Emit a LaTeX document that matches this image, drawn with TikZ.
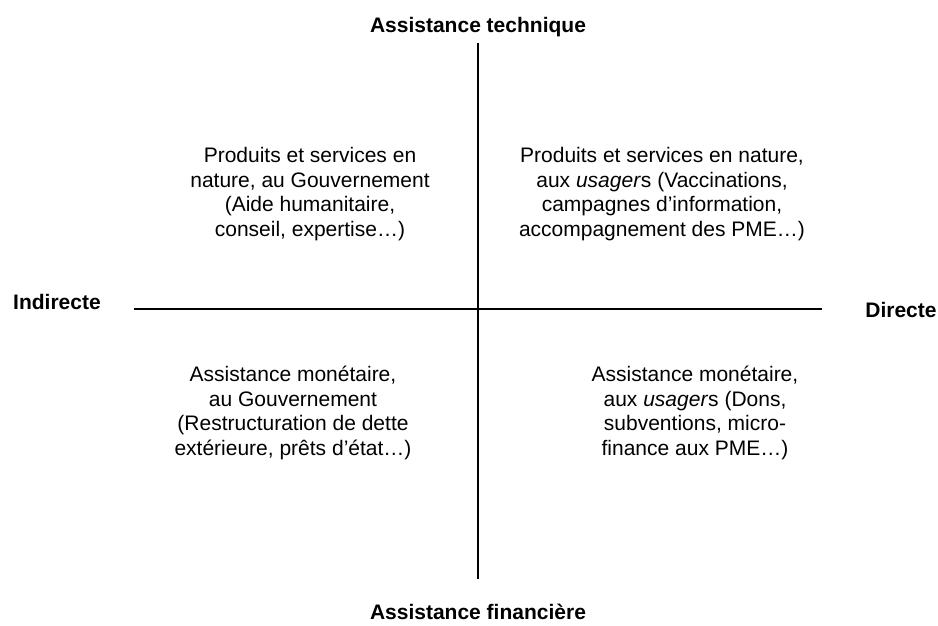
\documentclass[tikz,border=0pt]{standalone}
\usepackage{fontspec}
\setmainfont{Liberation Sans}
\begin{document}
\begin{tikzpicture}[x=1pt,y=-1pt,
  axis/.style={line width=1.6pt,black},
  lbl/.style={font=\fontsize{21}{24}\selectfont\bfseries,inner sep=0pt,anchor=base},
  quad/.style={font=\fontsize{21}{24.5}\selectfont,align=center,inner sep=0pt}]
\useasboundingbox[fill=white] (0,0) rectangle (938,626);
\coordinate (vt) at (478,43);
\coordinate (vb) at (478,579);
\coordinate (hl) at (134,309);
\coordinate (hr) at (822,309);
\draw[axis] (vt) -- (vb);
\draw[axis] (hl) -- (hr);
\node[lbl] (top) at (478,33) {Assistance technique};
\node[lbl] (bot) at (478,619) {Assistance financière};
\node[lbl] (ind) at (57,309) {Indirecte};
\node[lbl] (dir) at (901,317) {Directe};
\node[quad] (tl) at (310,194) {Produits et services en\\nature, au Gouvernement\\(Aide humanitaire,\\conseil, expertise…)};
\node[quad] (tr) at (662,194) {Produits et services en nature,\\aux \textit{usager}s (Vaccinations,\\campagnes d’information,\\accompagnement des PME…)};
\node[quad] (bl) at (293,413) {Assistance monétaire,\\au Gouvernement\\(Restructuration de dette\\extérieure, prêts d’état…)};
\node[quad] (br) at (695,413) {Assistance monétaire,\\aux \textit{usager}s (Dons,\\subventions, micro-\\finance aux PME…)};
\end{tikzpicture}
\end{document}
